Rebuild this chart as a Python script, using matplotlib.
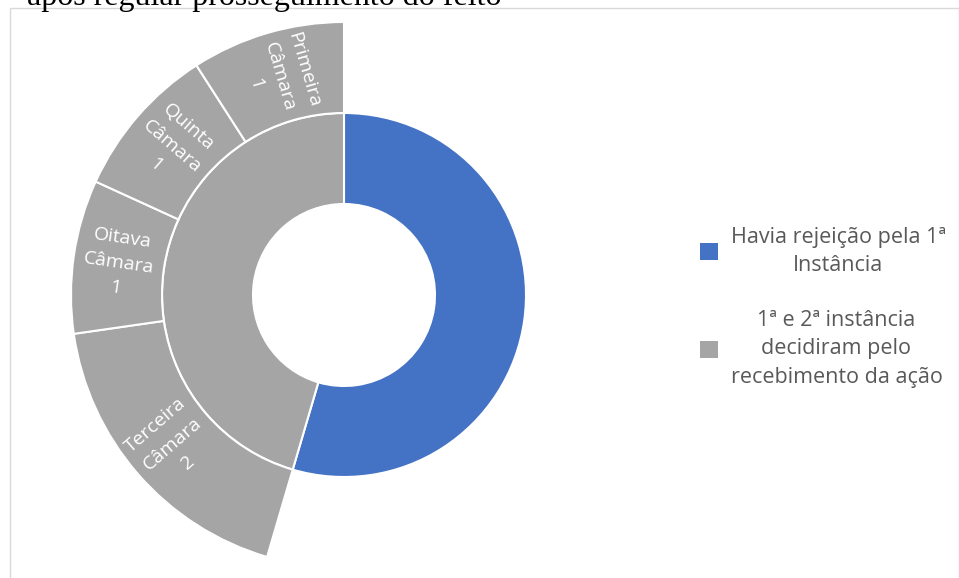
import matplotlib.pyplot as plt
from matplotlib.patches import Rectangle
import numpy as np

# inner ring: outcome groups
group_labels = ['Havia rejeição pela 1ª\nInstância',
                '1ª e 2ª instância\ndecidiram pelo\nrecebimento da ação']
group_vals = [6, 5]
group_colors = ['#4472C4', '#A5A5A5']

# outer ring: chambers inside the second group
chamber_names = ['Terceira\nCâmara', 'Oitava\nCâmara', 'Quinta\nCâmara', 'Primeira\nCâmara']
chamber_vals = [2, 1, 1, 1]

title = 'após regular prosseguimento do feito'

plt.rcParams['font.family'] = ['Open Sans', 'DejaVu Sans']

fig = plt.figure(figsize=(9.59, 5.78), dpi=100)
W, H = 959, 578

# light frame of the chart area
fig.patches.append(Rectangle((9.5 / W, -0.05), (958.5 - 9.5) / W, 1 - 8.5 / H + 0.05,
                             transform=fig.transFigure, fill=False,
                             edgecolor='#D9D9D9', linewidth=1))
fig.text(27 / W, 1 - 5 / H, title, family='Liberation Serif', fontsize=23,
         color='black', va='baseline', ha='left')

cx, cy, R = 344, 295, 273
ax = fig.add_axes([(cx - R) / W, (H - cy - R) / H, 2 * R / W, 2 * R / H])

edge = dict(edgecolor='white', linewidth=1.5)
inner, _ = ax.pie(group_vals, radius=2 / 3, colors=group_colors, startangle=90,
                  counterclock=False, wedgeprops=dict(width=1 / 3, **edge))

outer_vals = [group_vals[0]] + chamber_vals
outer, _ = ax.pie(outer_vals, radius=1, colors=['white'] + [group_colors[1]] * len(chamber_vals),
                  startangle=90, counterclock=False, wedgeprops=dict(width=1 / 3, **edge))
outer[0].set_visible(False)

for w, name, v in zip(outer[1:], chamber_names, chamber_vals):
    mid = (w.theta1 + w.theta2) / 2
    r = 5 / 6
    x, y = r * np.cos(np.radians(mid)), r * np.sin(np.radians(mid))
    ax.text(x, y, f'{name}\n{v}', color='white', fontsize=14, ha='center', va='center',
            rotation=mid - 180, rotation_mode='anchor', multialignment='center',
            linespacing=1.5)

ax.set_xlim(-1, 1)
ax.set_ylim(-1, 1)
ax.set_aspect('equal')
ax.axis('off')

leg = fig.legend(inner, group_labels, loc='center left',
                 bbox_to_anchor=(681 / W, 1 - 307 / H), frameon=False,
                 fontsize=15.5, handlelength=0.8, handleheight=0.8,
                 handletextpad=0.6, labelspacing=1.6, labelcolor='#595959')
for t in leg.get_texts():
    t.set_multialignment('center')
    t.set_linespacing(1.45)
for h in leg.legend_handles:
    h.set_edgecolor('none')

fig.savefig('out.png', dpi=100)
